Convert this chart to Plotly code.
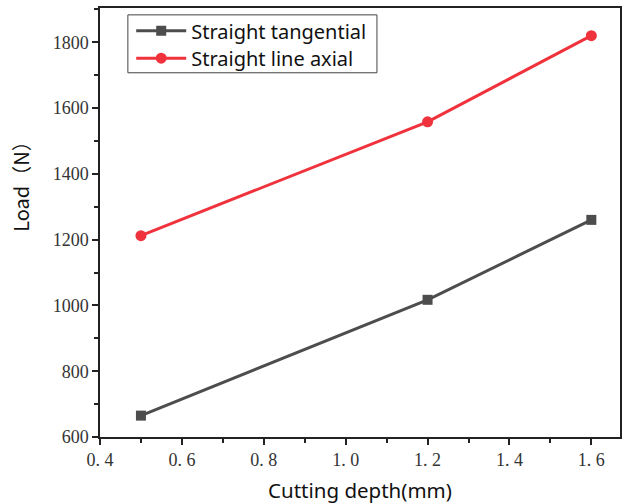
import plotly.graph_objects as go

# Cutting depth (mm) and measured loads (N)
depth = [0.5, 1.2, 1.6]
tangential = [665, 1017, 1260]
axial = [1212, 1558, 1820]

x_tickvals = [0.4, 0.6, 0.8, 1.0, 1.2, 1.4, 1.6]
x_ticktext = ["0. 4", "0. 6", "0. 8", "1. 0", "1. 2", "1. 4", "1. 6"]
y_tickvals = [600, 800, 1000, 1200, 1400, 1600, 1800]

SANS = "Noto Sans, Open Sans, sans-serif"
SERIF = "Liberation Serif, DejaVu Serif, serif"

fig = go.Figure()
fig.add_trace(go.Scatter(
    x=depth, y=tangential, mode="lines+markers", name="Straight tangential",
    line=dict(color="#4d4d4d", width=3),
    marker=dict(symbol="square", size=10, color="#4d4d4d"),
    legend="legend",
))
fig.add_trace(go.Scatter(
    x=depth, y=axial, mode="lines+markers", name="Straight line axial",
    line=dict(color="#f0323c", width=3),
    marker=dict(symbol="circle", size=11, color="#f0323c"),
    legend="legend2",
))

axis_common = dict(
    showgrid=False, zeroline=False, showline=True, linecolor="#222",
    linewidth=1.5, ticks="outside", ticklen=6, tickwidth=1.5, tickcolor="#222",
    mirror=True,
    tickfont=dict(family=SERIF, size=18, color="#333"),
)

fig.update_xaxes(
    range=[0.4, 1.67], tickvals=x_tickvals, ticktext=x_ticktext,
    minor=dict(ticks="outside", ticklen=4, tickwidth=1.5, tickcolor="#222", dtick=0.1),
    title=dict(text="Cutting depth(mm)", font=dict(family=SANS, size=20.5, color="#111"), standoff=16),
    **axis_common,
)
fig.update_yaxes(
    range=[600, 1904], tickvals=y_tickvals,
    minor=dict(ticks="outside", ticklen=4, tickwidth=1.5, tickcolor="#222", dtick=100),
    **axis_common,
)

# y-axis title placed as a rotated annotation
fig.add_annotation(
    text="Load（N）", textangle=-90, showarrow=False,
    xref="paper", yref="paper", x=-0.152, y=0.597, xanchor="center", yanchor="middle",
    font=dict(family="Noto Sans CJK SC, Noto Sans, sans-serif", size=20, color="#111"),
)

# shared frame around the two legend rows
fig.add_shape(
    type="rect", xref="paper", yref="paper",
    x0=0.0536, x1=0.5326, y0=0.849, y1=0.984,
    line=dict(color="#444", width=1), fillcolor="white", layer="below",
)

legend_style = dict(
    xanchor="left", yanchor="middle", bgcolor="rgba(0,0,0,0)", borderwidth=0,
    font=dict(family=SANS, size=20, color="#111"), itemwidth=50,
)

fig.update_layout(
    width=622, height=504,
    margin=dict(l=100, r=0, t=8, b=67),
    plot_bgcolor="white", paper_bgcolor="white",
    showlegend=True,
    legend=dict(x=0.060, y=0.947, **legend_style),
    legend2=dict(x=0.060, y=0.883, **legend_style),
)

fig.write_html("out.html")
